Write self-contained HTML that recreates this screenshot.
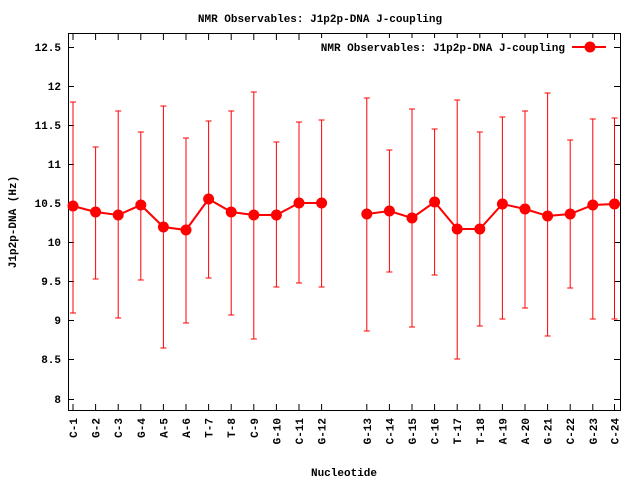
<!DOCTYPE html>
<html><head><meta charset="utf-8"><style>
html,body{margin:0;padding:0;background:#fff;}
svg text{font-family:"Liberation Mono","DejaVu Sans Mono",monospace;font-size:11px;font-weight:bold;fill:#000;}
</style></head><body>
<svg width="640" height="480" xmlns="http://www.w3.org/2000/svg">
<rect width="640" height="480" fill="#fff"/>
<rect x="68.5" y="33.5" width="552" height="377" fill="none" stroke="#000" stroke-width="1"/>
<g stroke="#000">
<line x1="68" y1="47.5" x2="74" y2="47.5"/><line x1="614" y1="47.5" x2="620" y2="47.5"/>
<line x1="68" y1="86.5" x2="74" y2="86.5"/><line x1="614" y1="86.5" x2="620" y2="86.5"/>
<line x1="68" y1="125.5" x2="74" y2="125.5"/><line x1="614" y1="125.5" x2="620" y2="125.5"/>
<line x1="68" y1="164.5" x2="74" y2="164.5"/><line x1="614" y1="164.5" x2="620" y2="164.5"/>
<line x1="68" y1="203.5" x2="74" y2="203.5"/><line x1="614" y1="203.5" x2="620" y2="203.5"/>
<line x1="68" y1="242.5" x2="74" y2="242.5"/><line x1="614" y1="242.5" x2="620" y2="242.5"/>
<line x1="68" y1="281.5" x2="74" y2="281.5"/><line x1="614" y1="281.5" x2="620" y2="281.5"/>
<line x1="68" y1="320.5" x2="74" y2="320.5"/><line x1="614" y1="320.5" x2="620" y2="320.5"/>
<line x1="68" y1="359.5" x2="74" y2="359.5"/><line x1="614" y1="359.5" x2="620" y2="359.5"/>
<line x1="68" y1="399.5" x2="74" y2="399.5"/><line x1="614" y1="399.5" x2="620" y2="399.5"/>
<path d="M73,410v-6M95.6,410v-6M118.2,410v-6M140.8,410v-6M163.4,410v-6M186,410v-6M208.6,410v-6M231.2,410v-6M253.8,410v-6M276.4,410v-6M299,410v-6M321.6,410v-6M366.8,410v-6M389.4,410v-6M412,410v-6M434.6,410v-6M457.2,410v-6M479.8,410v-6M502.4,410v-6M525,410v-6M547.6,410v-6M570.2,410v-6M592.8,410v-6M614.5,410v-6
M73,34v6M95.6,34v6M118.2,34v6M140.8,34v6M163.4,34v6M186,34v6M208.6,34v6M231.2,34v6M253.8,34v6M276.4,34v6M299,34v6M321.6,34v6M366.8,34v6M389.4,34v6M412,34v6M434.6,34v6M457.2,34v6M479.8,34v6M502.4,34v6M525,34v6M547.6,34v6M570.2,34v6M592.8,34v6M614.5,34v6"/>
</g>
<g text-anchor="end">
<text x="61" y="51">12.5</text><text x="61" y="90">12</text><text x="61" y="129">11.5</text>
<text x="61" y="168">11</text><text x="61" y="207">10.5</text><text x="61" y="246">10</text>
<text x="61" y="285">9.5</text><text x="61" y="324">9</text><text x="61" y="363">8.5</text>
<text x="61" y="403">8</text>
</g>
<g text-anchor="end">
<text transform="translate(77,418) rotate(-90)">C-1</text>
<text transform="translate(99.6,418) rotate(-90)">G-2</text>
<text transform="translate(122.2,418) rotate(-90)">C-3</text>
<text transform="translate(144.8,418) rotate(-90)">G-4</text>
<text transform="translate(167.4,418) rotate(-90)">A-5</text>
<text transform="translate(190,418) rotate(-90)">A-6</text>
<text transform="translate(212.6,418) rotate(-90)">T-7</text>
<text transform="translate(235.2,418) rotate(-90)">T-8</text>
<text transform="translate(257.8,418) rotate(-90)">C-9</text>
<text transform="translate(280.4,418) rotate(-90)">G-10</text>
<text transform="translate(303,418) rotate(-90)">C-11</text>
<text transform="translate(325.6,418) rotate(-90)">G-12</text>
<text transform="translate(370.8,418) rotate(-90)">G-13</text>
<text transform="translate(393.4,418) rotate(-90)">C-14</text>
<text transform="translate(416,418) rotate(-90)">G-15</text>
<text transform="translate(438.6,418) rotate(-90)">C-16</text>
<text transform="translate(461.2,418) rotate(-90)">T-17</text>
<text transform="translate(483.8,418) rotate(-90)">T-18</text>
<text transform="translate(506.4,418) rotate(-90)">A-19</text>
<text transform="translate(529,418) rotate(-90)">A-20</text>
<text transform="translate(551.6,418) rotate(-90)">G-21</text>
<text transform="translate(574.2,418) rotate(-90)">C-22</text>
<text transform="translate(596.8,418) rotate(-90)">G-23</text>
<text transform="translate(618.5,418) rotate(-90)">C-24</text>
</g>
<text x="320" y="22" text-anchor="middle">NMR Observables: J1p2p-DNA J-coupling</text>
<text x="344" y="476" text-anchor="middle">Nucleotide</text>
<text transform="translate(16,222) rotate(-90)" text-anchor="middle">J1p2p-DNA (Hz)</text>
<path stroke="#f00" fill="none" d="
M73,102V313M70,102h6M70,313h6
M95.6,147V279M92.6,147h6M92.6,279h6
M118.2,111V318M115.2,111h6M115.2,318h6
M140.8,132V280M137.8,132h6M137.8,280h6
M163.4,106V348M160.4,106h6M160.4,348h6
M186,138V323M183,138h6M183,323h6
M208.6,121V278M205.6,121h6M205.6,278h6
M231.2,111V315M228.2,111h6M228.2,315h6
M253.8,92V339M250.8,92h6M250.8,339h6
M276.4,142V287M273.4,142h6M273.4,287h6
M299,122V283M296,122h6M296,283h6
M321.6,120V287M318.6,120h6M318.6,287h6
M366.8,98V331M363.8,98h6M363.8,331h6
M389.4,150V272M386.4,150h6M386.4,272h6
M412,109V327M409,109h6M409,327h6
M434.6,129V275M431.6,129h6M431.6,275h6
M457.2,100V359M454.2,100h6M454.2,359h6
M479.8,132V326M476.8,132h6M476.8,326h6
M502.4,117V319M499.4,117h6M499.4,319h6
M525,111V308M522,111h6M522,308h6
M547.6,93V336M544.6,93h6M544.6,336h6
M570.2,140V288M567.2,140h6M567.2,288h6
M592.8,119V319M589.8,119h6M589.8,319h6
M614.5,118V319M611.5,118h6M611.5,319h6"/>
<polyline fill="none" stroke="#f00" stroke-width="2" points="73,206 95.6,212 118.2,215 140.8,205 163.4,227 186,230 208.6,199 231.2,212 253.8,215 276.4,215 299,203 321.6,203"/>
<polyline fill="none" stroke="#f00" stroke-width="2" points="366.8,214 389.4,211 412,218 434.6,202 457.2,229 479.8,229 502.4,204 525,209 547.6,216 570.2,214 592.8,205 614.5,204"/>
<g fill="#f00">
<circle cx="73" cy="206" r="5.5"/><circle cx="95.6" cy="212" r="5.5"/><circle cx="118.2" cy="215" r="5.5"/>
<circle cx="140.8" cy="205" r="5.5"/><circle cx="163.4" cy="227" r="5.5"/><circle cx="186" cy="230" r="5.5"/>
<circle cx="208.6" cy="199" r="5.5"/><circle cx="231.2" cy="212" r="5.5"/><circle cx="253.8" cy="215" r="5.5"/>
<circle cx="276.4" cy="215" r="5.5"/><circle cx="299" cy="203" r="5.5"/><circle cx="321.6" cy="203" r="5.5"/>
<circle cx="366.8" cy="214" r="5.5"/><circle cx="389.4" cy="211" r="5.5"/><circle cx="412" cy="218" r="5.5"/>
<circle cx="434.6" cy="202" r="5.5"/><circle cx="457.2" cy="229" r="5.5"/><circle cx="479.8" cy="229" r="5.5"/>
<circle cx="502.4" cy="204" r="5.5"/><circle cx="525" cy="209" r="5.5"/><circle cx="547.6" cy="216" r="5.5"/>
<circle cx="570.2" cy="214" r="5.5"/><circle cx="592.8" cy="205" r="5.5"/><circle cx="614.5" cy="204" r="5.5"/>
</g>
<rect x="300" y="38" width="312" height="18" fill="#fff"/>
<text x="565" y="51" text-anchor="end">NMR Observables: J1p2p-DNA J-coupling</text>
<line x1="572" y1="47" x2="606" y2="47" stroke="#f00" stroke-width="2"/>
<circle cx="590" cy="47" r="5.5" fill="#f00"/>
</svg>
</body></html>
